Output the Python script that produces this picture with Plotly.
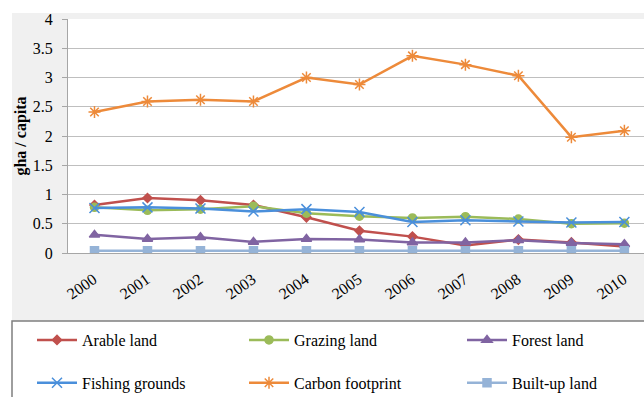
import plotly.graph_objects as go

years = ["2000", "2001", "2002", "2003", "2004", "2005", "2006", "2007", "2008", "2009", "2010"]
arable = [0.82, 0.94, 0.90, 0.82, 0.61, 0.38, 0.28, 0.13, 0.23, 0.18, 0.11]
grazing = [0.78, 0.73, 0.75, 0.80, 0.68, 0.63, 0.60, 0.62, 0.58, 0.50, 0.51]
forest = [0.31, 0.24, 0.27, 0.19, 0.24, 0.23, 0.18, 0.18, 0.22, 0.17, 0.15]
fishing = [0.77, 0.78, 0.76, 0.71, 0.75, 0.70, 0.53, 0.56, 0.54, 0.52, 0.53]
carbon = [2.41, 2.59, 2.62, 2.59, 3.00, 2.88, 3.37, 3.22, 3.03, 1.98, 2.09]
builtup = [0.04, 0.04, 0.04, 0.04, 0.04, 0.04, 0.04, 0.04, 0.04, 0.04, 0.04]

series = [
    ("Arable land", arable, "#C0504D", "diamond", 7, "legend", "g1"),
    ("Grazing land", grazing, "#9BBB59", "circle", 8, "legend2", "g2"),
    ("Forest land", forest, "#8064A2", "triangle-up", 9, "legend3", "g3"),
    ("Fishing grounds", fishing, "#4A8FDB", "x-thin-open", 10, "legend", "g4"),
    ("Carbon footprint", carbon, "#ED8A3A", "asterisk-open", 10, "legend2", "g5"),
    ("Built-up land", builtup, "#95B3D7", "square", 8, "legend3", "g6"),
]

SERIF = "Liberation Serif"

fig = go.Figure()
for name, vals, color, sym, size, leg, grp in series:
    fig.add_trace(go.Scatter(
        x=years, y=vals, name=name, mode="lines+markers",
        line=dict(color=color, width=2.5),
        marker=dict(symbol=sym, size=size, color=color, line=dict(color=color, width=1.5)),
        legend=leg, legendgroup=grp,
    ))

L, T, W, H = 68, 19, 576, 234
def px(x):
    return (x - L) / W
def py(y):
    return (T + H - y) / H

legfont = dict(family=SERIF, size=16, color="#000000")
common = dict(orientation="v", xanchor="left", yanchor="top", font=legfont,
              tracegroupgap=19, bgcolor="rgba(0,0,0,0)", itemwidth=40)

fig.update_layout(
    width=644, height=397,
    margin=dict(l=L, r=0, t=T, b=397 - T - H, autoexpand=False),
    paper_bgcolor="#F0F0F0", plot_bgcolor="white",
    font=dict(family=SERIF, size=15, color="#000000"),
    xaxis=dict(type="category", range=[-0.5, 10.37], showgrid=False, automargin=False,
               tickangle=-35, ticks="", showline=True, linecolor="#A6A6A6", linewidth=1,
               ticklabelstandoff=10, ticklabelshift=-1,
               tickfont=dict(family=SERIF, size=16, color="#000000")),
    yaxis=dict(range=[0, 4], dtick=0.5, showgrid=True, gridcolor="#BFBFBF", gridwidth=1,
               automargin=False,
               showline=True, linecolor="#A6A6A6", linewidth=1, ticks="outside",
               ticklen=5, tickcolor="#A6A6A6", zeroline=False, ticklabelstandoff=6,
               tickfont=dict(family=SERIF, size=16, color="#000000"),
               title=dict(text="<b>gha / capita</b>", standoff=2,
                          font=dict(family=SERIF, size=16, color="#000000"))),
    legend=dict(x=px(32), y=py(323), **common),
    legend2=dict(x=px(244), y=py(323), **common),
    legend3=dict(x=px(462), y=py(323), **common),
    shapes=[
        dict(type="rect", xref="paper", yref="paper", x0=px(-5), x1=1.05, y0=py(13), y1=py(-5),
             fillcolor="white", line=dict(width=0), layer="below"),
        dict(type="rect", xref="paper", yref="paper", x0=px(-5), x1=px(12), y0=py(405), y1=py(-5),
             fillcolor="white", line=dict(width=0), layer="below"),
        dict(type="rect", xref="paper", yref="paper", x0=px(12), x1=1.02, y0=py(410), y1=py(321),
             fillcolor="white", line=dict(color="#7F7F7F", width=1.5), layer="below"),
    ],
)

fig.write_html("out.html", config={"displayModeBar": False},
               post_script="document.body.style.margin='0';document.body.style.padding='0';")
